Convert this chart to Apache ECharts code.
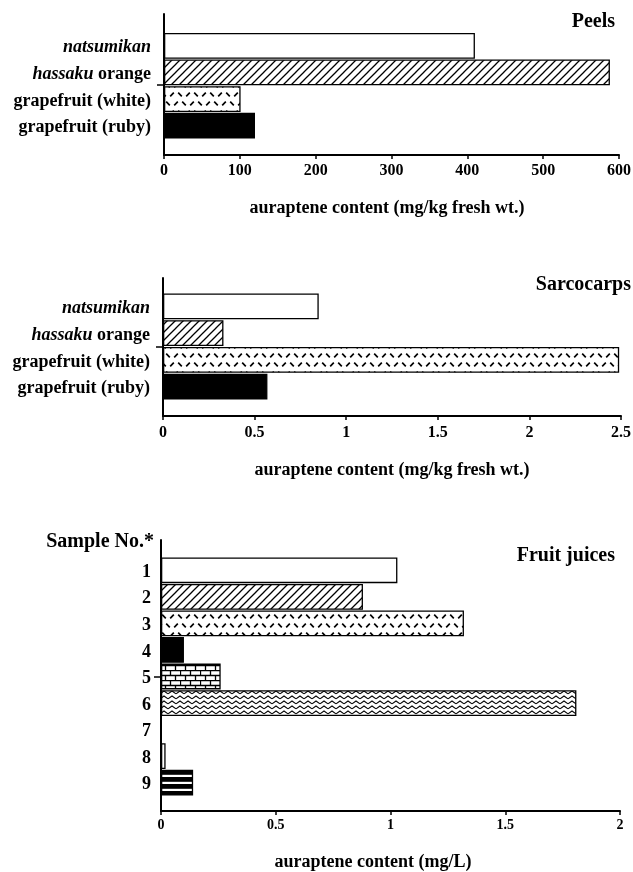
<!DOCTYPE html>
<html>
<head>
<meta charset="utf-8">
<style>
  html, body { margin: 0; padding: 0; background: #fff; }
  #chart { width: 633px; height: 872px; }
</style>
<script src="https://cdn.jsdelivr.net/npm/echarts@6/dist/echarts.min.js"></script>
</head>
<body>
<div id="chart"></div>
<script>
// Auraptene content of citrus peels, sarcocarps and fruit juices
const fruitCategories = ['natsumikan', 'hassaku orange', 'grapefruit (white)', 'grapefruit (ruby)'];
const peelValues = [410, 588, 101, 120];          // mg/kg fresh wt.
const sarcocarpValues = [0.85, 0.33, 2.49, 0.57];  // mg/kg fresh wt.
const juiceSamples = ['1', '2', '3', '4', '5', '6', '7', '8', '9'];
const juiceValues = [1.03, 0.88, 1.32, 0.10, 0.26, 1.81, 0, 0.02, 0.14]; // mg/L

const peelTicks = { min: 0, max: 600, interval: 100 };
const sarcocarpTicks = { min: 0, max: 2.5, interval: 0.5 };
const juiceTicks = { min: 0, max: 2, interval: 0.5 };

// fill style of each bar, by position
const fruitFills = ['white', 'hatch', 'tread', 'black'];
const juiceFills = ['white', 'hatch', 'tread', 'black', 'brick', 'zigzag', 'white', 'white', 'stripes'];

const SERIF = "'Liberation Serif', 'DejaVu Serif', serif";

function tile(w, h, draw) {
  const c = document.createElement('canvas');
  c.width = w; c.height = h;
  const g = c.getContext('2d');
  g.fillStyle = '#fff';
  g.fillRect(0, 0, w, h);
  g.strokeStyle = '#000';
  g.fillStyle = '#000';
  draw(g);
  return { image: c, repeat: 'repeat' };
}

// short dash centred on (cx, cy); dir 1 = "\", -1 = "/"
function dash(g, cx, cy, dir) {
  g.moveTo(cx - 1.8, cy - 1.8 * dir);
  g.lineTo(cx + 1.8, cy + 1.8 * dir);
}

const fills = {
  white: '#ffffff',
  black: '#000000',
  hatch: tile(8, 8, g => {
    g.lineWidth = 1.3;
    g.beginPath();
    g.moveTo(-1, 9); g.lineTo(9, -1);
    g.moveTo(-5, 5); g.lineTo(5, -5);
    g.moveTo(3, 13); g.lineTo(13, 3);
    g.stroke();
  }),
  tread: tile(16, 18, g => {
    g.lineWidth = 1.7;
    g.beginPath();
    dash(g, 4, 4.5, 1);
    dash(g, 12, 4.5, -1);
    dash(g, 0, 13.5, -1);
    dash(g, 16, 13.5, -1);
    dash(g, 8, 13.5, 1);
    g.stroke();
  }),
  brick: tile(20, 10, g => {
    g.lineWidth = 1.3;
    g.beginPath();
    g.moveTo(0, 0.5); g.lineTo(20, 0.5);
    g.moveTo(0, 5.5); g.lineTo(20, 5.5);
    g.moveTo(0.5, 0); g.lineTo(0.5, 5.5);
    g.moveTo(10.5, 0); g.lineTo(10.5, 5.5);
    g.moveTo(5.5, 5.5); g.lineTo(5.5, 10);
    g.moveTo(15.5, 5.5); g.lineTo(15.5, 10);
    g.stroke();
  }),
  zigzag: tile(8, 5, g => {
    g.lineWidth = 1.1;
    g.beginPath();
    g.moveTo(0, 3.8); g.lineTo(4, 1); g.lineTo(8, 3.8);
    g.stroke();
  }),
  stripes: tile(4, 7, g => {
    g.fillRect(0, 0, 4, 4.8);
  })
};

const labelRich = {
  i: { fontFamily: SERIF, fontWeight: 'bold', fontStyle: 'italic', fontSize: 18, color: '#000' }
};
function fruitLabel(v) {
  if (v === 'natsumikan') return '{i|natsumikan}';
  if (v === 'hassaku orange') return '{i|hassaku} orange';
  return v;
}

const grids = [];
const xAxes = [];
const yAxes = [];
const series = [];

// one panel = an axis frame grid plus an inner grid holding the bars;
// the small mark on the vertical axis sits either on the frame's midpoint
// or on the middle category of the bar axis
function addPanel(p) {
  const f = grids.length;
  grids.push({ left: p.x0, width: p.x1 - p.x0, top: p.axisTop, height: p.axisBottom - p.axisTop,
               containLabel: false, outerBoundsMode: 'none' });
  grids.push({ left: p.x0, width: p.x1 - p.x0, top: p.barTop, height: p.barBottom - p.barTop,
               containLabel: false, outerBoundsMode: 'none' });

  xAxes.push({
    gridIndex: f, type: 'value', min: p.ticks.min, max: p.ticks.max, interval: p.ticks.interval,
    splitLine: { show: false },
    axisLine: { show: true, lineStyle: { color: '#000', width: 2 } },
    axisTick: { show: true, length: 4, lineStyle: { color: '#000', width: 1.5 } },
    axisLabel: { color: '#000', fontFamily: SERIF, fontWeight: 'bold', fontSize: p.tickFont,
                 margin: p.tickMargin, showMinLabel: true, showMaxLabel: true }
  });
  yAxes.push({
    gridIndex: f, type: 'category', data: ['', '', ''], boundaryGap: false,
    axisLine: { show: true, lineStyle: { color: '#000', width: 2 } },
    axisTick: { show: p.frameMark, length: 7, interval: (i) => i === 1,
                lineStyle: { color: '#000', width: 1.5 } },
    axisLabel: { show: false }, splitLine: { show: false }
  });

  xAxes.push({ gridIndex: f + 1, type: 'value', min: p.ticks.min, max: p.ticks.max, show: false });
  yAxes.push({
    gridIndex: f + 1, type: 'category', data: p.categories, inverse: true,
    axisLine: { show: false },
    axisTick: { show: !p.frameMark, length: 7, alignWithLabel: true,
                interval: (i) => i === 4, lineStyle: { color: '#000', width: 1.5 } },
    axisLabel: { color: '#000', fontFamily: SERIF, fontWeight: 'bold', fontSize: 18,
                 margin: p.labelMargin, interval: 0, padding: [4, 0, 0, 0],
                 formatter: p.formatter, rich: labelRich },
    splitLine: { show: false }
  });

  series.push({
    type: 'bar', xAxisIndex: f + 1, yAxisIndex: f + 1,
    barCategoryGap: '3%',
    silent: true,
    itemStyle: { borderColor: '#000', borderWidth: 1.3 },
    data: p.values.map((v, i) => ({ value: v, itemStyle: { color: fills[p.fills[i]] } }))
  });
}

addPanel({ x0: 164, x1: 619, axisTop: 14, axisBottom: 155, barTop: 32.5, barBottom: 139,
           ticks: peelTicks, tickFont: 16, tickMargin: 8, labelMargin: 13,
           categories: fruitCategories, values: peelValues, fills: fruitFills,
           frameMark: true, formatter: fruitLabel });
addPanel({ x0: 163, x1: 621, axisTop: 278, axisBottom: 416, barTop: 293, barBottom: 400,
           ticks: sarcocarpTicks, tickFont: 16, tickMargin: 9, labelMargin: 13,
           categories: fruitCategories, values: sarcocarpValues, fills: fruitFills,
           frameMark: true, formatter: fruitLabel });
addPanel({ x0: 161, x1: 620, axisTop: 540, axisBottom: 811, barTop: 557, barBottom: 796,
           ticks: juiceTicks, tickFont: 14, tickMargin: 7, labelMargin: 10,
           categories: juiceSamples, values: juiceValues, fills: juiceFills,
           frameMark: false, formatter: (v) => v });

function txt(text, x, y, size, align) {
  return {
    type: 'text', x: x, y: y, silent: true,
    style: { text: text, fill: '#000', font: 'bold ' + size + 'px ' + SERIF,
             textAlign: align, textVerticalAlign: 'middle' }
  };
}

const chart = echarts.init(document.getElementById('chart'), null, { renderer: 'canvas' });
chart.setOption({
  animation: false,
  backgroundColor: '#fff',
  grid: grids,
  xAxis: xAxes,
  yAxis: yAxes,
  series: series,
  graphic: [
    txt('Peels', 615, 22, 20, 'right'),
    txt('auraptene content (mg/kg fresh wt.)', 387, 208, 18, 'center'),
    txt('Sarcocarps', 631, 285, 20, 'right'),
    txt('auraptene content (mg/kg fresh wt.)', 392, 470, 18, 'center'),
    txt('Sample No.*', 154, 542, 20, 'right'),
    txt('Fruit juices', 615, 556, 20, 'right'),
    txt('auraptene content (mg/L)', 373, 862, 18, 'center')
  ]
});
</script>
</body>
</html>
